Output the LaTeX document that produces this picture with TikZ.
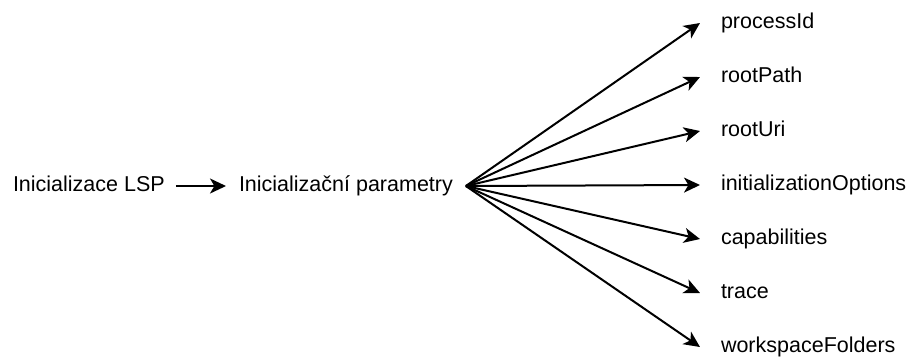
\documentclass[tikz,border=0pt]{standalone}
\usepackage{fontspec}
\setmainfont{Liberation Sans}
\usepackage{tikz}
\usetikzlibrary{arrows.meta,positioning}

\tikzset{
    txt/.style={anchor=west,font=\fontsize{10.75}{13}\selectfont,
        inner ysep=0pt,text height=7.7pt,text depth=2.15pt},
    box/.style={txt,inner xsep=5pt},
    leaf/.style={txt,inner xsep=10pt},
}

\begin{document}
\begin{tikzpicture}[x=0.5pt,y=-0.5pt,line width=1pt,
    >={Stealth[length=8pt,width=7.5pt,inset=2.2pt]}]
    \useasboundingbox (0,0) rectangle (910,361);
    \path
        (2,186)    node [box]  (lsp) {Inicializace LSP}
        (226,186)  node [box,inner xsep=6pt]  (params) {Inicializační parametry}
        ;
    \path
        (700,23)   node [leaf] (pid) {processId}
     ++ (0,54)     node [leaf] (rpath) {rootPath}
     ++ (0,54)     node [leaf] (ruri) {rootUri}
     ++ (0,54)     node [leaf] (iopts) {initializationOptions}
     ++ (0,54)     node [leaf] (caps) {capabilities}
     ++ (0,54)     node [leaf] (trc) {trace}
     ++ (0,54)     node [leaf] (wsf) {workspaceFolders}
        ;
    \draw [->] (lsp.east) -- (params.west);
    \draw [->] (params.east) -- (pid.west);
    \draw [->] (params.east) -- (rpath.west);
    \draw [->] (params.east) -- (ruri.west);
    \draw [->] (params.east) -- (iopts.west);
    \draw [->] (params.east) -- (caps.west);
    \draw [->] (params.east) -- (trc.west);
    \draw [->] (params.east) -- (wsf.west);
\end{tikzpicture}
\end{document}
